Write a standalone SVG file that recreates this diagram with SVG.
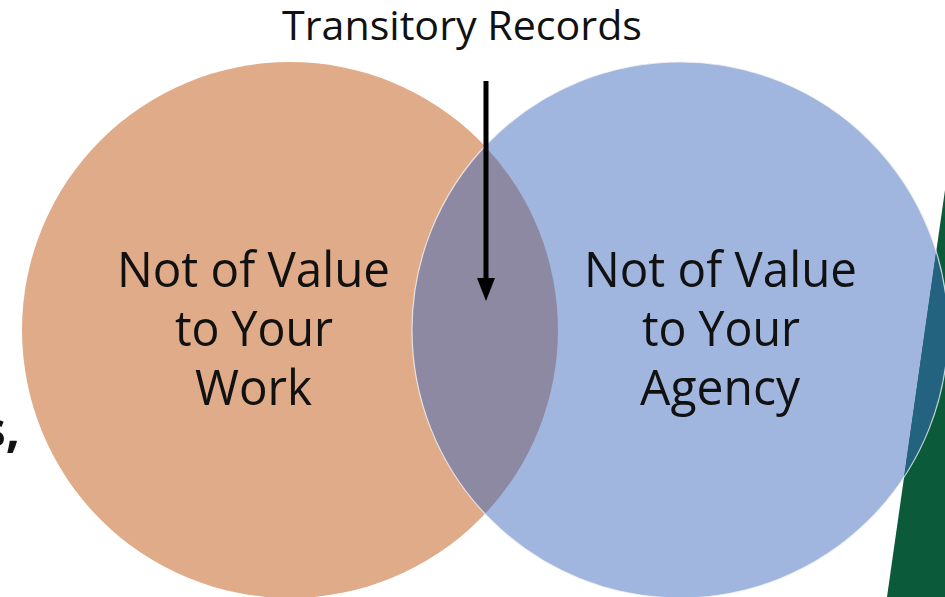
<svg xmlns="http://www.w3.org/2000/svg" width="945" height="597" viewBox="0 0 945 597">
  <style>
    .lbl { font-family: "Open Sans", "Noto Sans", "Liberation Sans", sans-serif; fill: #111; }
    .big { font-size: 50px; }
    .title { font-size: 40px; }
  </style>
  <defs>
    <clipPath id="blueClip"><circle cx="680" cy="330" r="268"/></clipPath>
  </defs>
  <rect width="945" height="597" fill="#fff"/>

  <g id="circle-work">
    <circle cx="290" cy="330" r="268" fill="#DFAB89"/>
  </g>
  <g id="circle-agency">
    <circle cx="680" cy="330" r="268" fill="#A1B6DF"/>
  </g>
  <g id="side-shape">
    <polygon points="945,190 945,597 887,597" fill="#0B5A3A"/>
    <polygon points="945,190 945,597 887,597" fill="#23637F" clip-path="url(#blueClip)"/>
  </g>
  <g id="overlap">
    <path d="M485,146.2 A268,268 0 0 1 485,513.8 A268,268 0 0 1 485,146.2 Z" fill="#8E89A2"/>
    <circle cx="680" cy="330" r="268" fill="none" stroke="#F2F2F2" stroke-width="1.2" stroke-opacity="0.8"/>
  </g>

  <g id="connectors">
    <line x1="486" y1="81" x2="486" y2="282" stroke="#000" stroke-width="5"/>
    <polygon points="477,278 495,278 486,301" fill="#000"/>
  </g>

  <g id="label-transitory">
    <text class="lbl title" x="462" y="40" text-anchor="middle" textLength="360" lengthAdjust="spacingAndGlyphs">Transitory Records</text>
  </g>
  <g id="label-work">
    <text class="lbl big" x="253.5" y="287" text-anchor="middle" textLength="273" lengthAdjust="spacingAndGlyphs">Not of Value</text>
    <text class="lbl big" x="254" y="346" text-anchor="middle" textLength="158" lengthAdjust="spacingAndGlyphs">to Your</text>
    <text class="lbl big" x="253.5" y="405" text-anchor="middle" textLength="117" lengthAdjust="spacingAndGlyphs">Work</text>
  </g>
  <g id="label-agency">
    <text class="lbl big" x="720.5" y="287" text-anchor="middle" textLength="273" lengthAdjust="spacingAndGlyphs">Not of Value</text>
    <text class="lbl big" x="721" y="346" text-anchor="middle" textLength="158" lengthAdjust="spacingAndGlyphs">to Your</text>
    <text class="lbl big" x="720" y="405" text-anchor="middle" textLength="160" lengthAdjust="spacingAndGlyphs">Agency</text>
  </g>
  <g id="fragment">
    <text class="lbl big" x="20" y="447" text-anchor="end" font-weight="bold">s,</text>
  </g>
</svg>
